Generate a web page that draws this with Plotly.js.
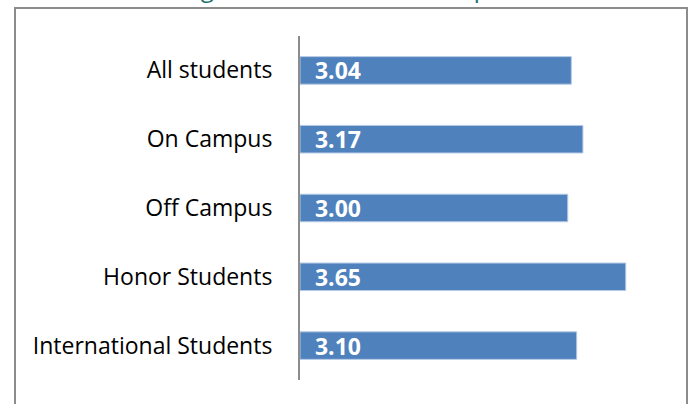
<!DOCTYPE html>
<html>
<head>
<meta charset="utf-8">
<script src="https://cdn.plot.ly/plotly-3.0.1.min.js"></script>
<style>
html,body{margin:0;padding:0;background:#fff;overflow:hidden;}
#chart{width:689px;height:404px;position:absolute;left:0;top:0;}
#frame{position:absolute;left:14px;top:7px;width:670px;height:440px;border:2px solid #8c8c8c;pointer-events:none;}
</style>
</head>
<body>
<div id="chart"></div>
<div id="frame"></div>
<script>
const categories = ["All students", "On Campus", "Off Campus", "Honor Students", "International Students"];
const values = [3.04, 3.17, 3.00, 3.65, 3.10];
const titleText = "Average Satisfaction with Campus";

const trace = {
  type: "bar",
  orientation: "h",
  y: categories,
  x: values,
  marker: {color: "#4F81BD", line: {color: "#B4C9E4", width: 1}},
  texttemplate: "\u00a0\u00a0%{x:.2f}",
  textposition: "inside",
  insidetextanchor: "start",
  constraintext: "none",
  textfont: {family: "Open Sans", size: 23, color: "#ffffff", weight: "bold"},
  hoverinfo: "none"
};

const layout = {
  width: 689, height: 404,
  margin: {l: 300, r: 32, t: 36, b: 24, pad: 0},
  paper_bgcolor: "#ffffff", plot_bgcolor: "#ffffff",
  showlegend: false,
  bargap: 0.6,
  xaxis: {range: [0, 4], visible: false, showgrid: false, zeroline: false, fixedrange: true},
  yaxis: {
    type: "category",
    range: [4.5, -0.5],
    showline: true, linecolor: "#8c8c8c", linewidth: 2,
    showgrid: false, zeroline: false, ticks: "",
    ticklabelstandoff: 21,
    tickfont: {family: "Open Sans", size: 23, color: "#000000"},
    fixedrange: true
  },
  annotations: [{
    text: titleText, xref: "paper", yref: "paper",
    x: -0.458, xanchor: "left", y: 1.09, yanchor: "bottom",
    showarrow: false, borderpad: 0,
    font: {family: "Open Sans", size: 24, color: "#17706C"}
  }]
};

Plotly.newPlot("chart", [trace], layout, {displayModeBar: false, staticPlot: true});
</script>
</body>
</html>
